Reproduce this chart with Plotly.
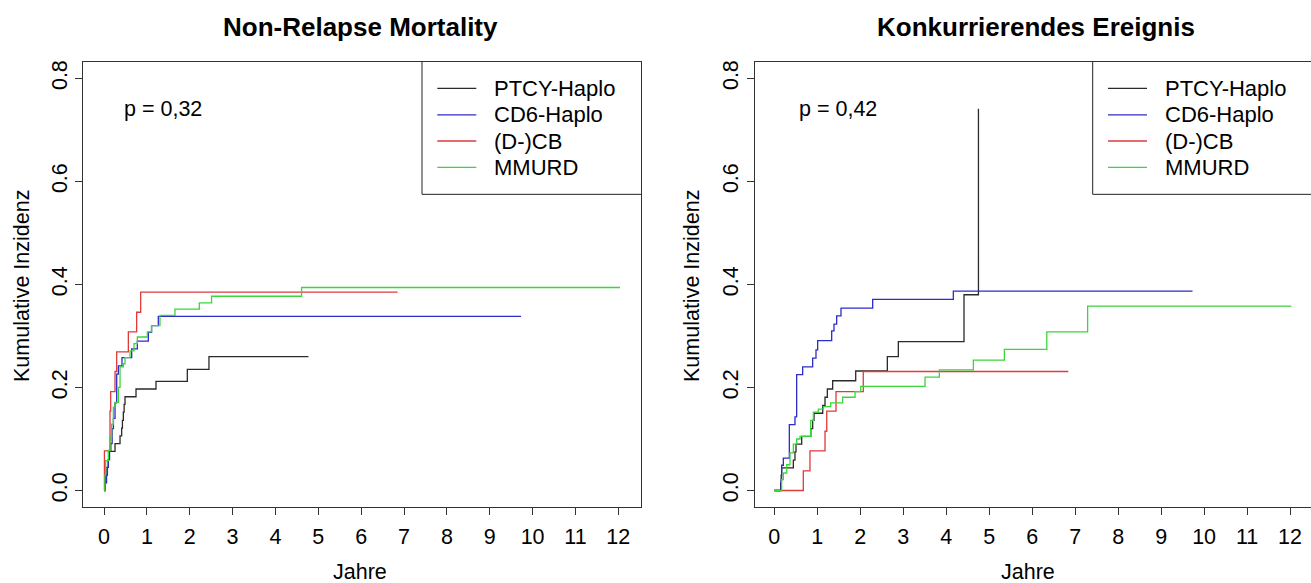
import plotly.graph_objects as go

W, H = 1311, 583

# ---------------- data (years, cumulative incidence) ----------------
series_names = ["PTCY-Haplo", "CD6-Haplo", "(D-)CB", "MMURD"]
series_colors = ["#2a2a2a", "#2c2cc8", "#e03a3a", "#3ad63a"]

# Non-Relapse Mortality
nrm_ptcy_t = [0, 0.02, 0.04, 0.07, 0.10, 0.12, 0.257, 0.374, 0.412, 0.43, 0.451, 0.47, 0.49, 0.747, 1.213, 1.944, 2.449, 4.77]
nrm_ptcy_v = [0, 0.015, 0.03, 0.045, 0.06, 0.076, 0.091, 0.106, 0.121, 0.136, 0.152, 0.167, 0.182, 0.197, 0.212, 0.235, 0.26, 0.26]
nrm_cd6_t = [0, 0.03, 0.06, 0.08, 0.10, 0.13, 0.16, 0.19, 0.22, 0.257, 0.296, 0.335, 0.42, 0.646, 0.778, 1.034, 1.11, 1.267, 9.73]
nrm_cd6_v = [0, 0.015, 0.03, 0.045, 0.06, 0.076, 0.091, 0.12, 0.14, 0.17, 0.226, 0.242, 0.258, 0.275, 0.29, 0.307, 0.32, 0.338, 0.338]
nrm_cb_t = [0, 0.01, 0.14, 0.156, 0.257, 0.296, 0.568, 0.762, 0.855, 6.85]
nrm_cb_v = [0, 0.077, 0.154, 0.192, 0.231, 0.269, 0.308, 0.346, 0.385, 0.385]
nrm_mmurd_t = [0, 0.02, 0.039, 0.101, 0.14, 0.179, 0.218, 0.257, 0.335, 0.374, 0.451, 0.49, 0.607, 0.70, 0.778, 1.011, 1.11, 1.306, 1.656, 2.224, 2.51, 4.61, 12.04]
nrm_mmurd_v = [0, 0.03, 0.058, 0.078, 0.104, 0.129, 0.162, 0.171, 0.20, 0.24, 0.246, 0.258, 0.271, 0.285, 0.298, 0.308, 0.32, 0.34, 0.352, 0.364, 0.377, 0.394, 0.394]

# Konkurrierendes Ereignis
ke_ptcy_t = [0, 0.148, 0.16, 0.171, 0.443, 0.481, 0.505, 0.637, 0.85, 0.893, 0.924, 1.126, 1.18, 1.234, 1.358, 1.894, 2.63, 2.886, 4.414, 4.75]
ke_ptcy_v = [0, 0.015, 0.03, 0.044, 0.059, 0.075, 0.09, 0.105, 0.12, 0.136, 0.15, 0.165, 0.181, 0.197, 0.213, 0.232, 0.26, 0.289, 0.38, 0.741]
ke_cd6_t = [0, 0.16, 0.171, 0.21, 0.35, 0.481, 0.52, 0.66, 0.893, 0.97, 1.009, 1.335, 1.389, 1.451, 1.552, 2.289, 4.166, 9.73]
ke_cd6_v = [0, 0.02, 0.049, 0.063, 0.128, 0.143, 0.225, 0.24, 0.257, 0.273, 0.291, 0.31, 0.323, 0.339, 0.354, 0.371, 0.387, 0.387]
ke_cb_t = [0, 0.675, 0.83, 1.18, 1.22, 1.436, 2.07, 6.84]
ke_cb_v = [0, 0.038, 0.077, 0.115, 0.154, 0.192, 0.231, 0.231]
ke_mmurd_t = [0, 0.171, 0.21, 0.29, 0.365, 0.443, 0.52, 0.598, 0.846, 0.908, 1.025, 1.141, 1.312, 1.591, 1.878, 2.01, 3.507, 3.84, 4.631, 5.353, 6.34, 7.29, 12.03]
ke_mmurd_v = [0, 0.021, 0.034, 0.05, 0.073, 0.09, 0.10, 0.105, 0.136, 0.152, 0.158, 0.163, 0.17, 0.181, 0.192, 0.202, 0.22, 0.234, 0.253, 0.274, 0.308, 0.358, 0.358]

panel_titles = ["Non-Relapse Mortality", "Konkurrierendes Ereignis"]
p_texts = ["p = 0,32", "p = 0,42"]
x_ticks = list(range(0, 13))
y_ticks = [0.0, 0.2, 0.4, 0.6, 0.8]
x_label = "Jahre"
y_label = "Kumulative Inzidenz"

panels = [
    [(nrm_ptcy_t, nrm_ptcy_v), (nrm_cd6_t, nrm_cd6_v), (nrm_cb_t, nrm_cb_v), (nrm_mmurd_t, nrm_mmurd_v)],
    [(ke_ptcy_t, ke_ptcy_v), (ke_cd6_t, ke_cd6_v), (ke_cb_t, ke_cb_v), (ke_mmurd_t, ke_mmurd_v)],
]

# ---------------- layout geometry (pixels) ----------------
FONT = "Liberation Sans, Arial, sans-serif"
FS = 21.5
box_left = [83.3, 755.0]
box_right = [641.0, 1311.0]
box_top, box_bottom = 60.0, 506.7
zero_px = [104.0, 774.3]
px_per_year = [42.86, 42.98]
y0_px = 490.2
px_per_unit = 517.0

fig = go.Figure()

for i, series in enumerate(panels):
    xa = "x" if i == 0 else "x2"
    ya = "y" if i == 0 else "y2"
    for (t, v), name, col in zip(series, series_names, series_colors):
        fig.add_trace(go.Scatter(x=t, y=v, mode="lines", line=dict(color=col, width=1.3, shape="hv"),
                                 name=name, showlegend=False, xaxis=xa, yaxis=ya))

axis_common = dict(showgrid=False, zeroline=False, showline=True, linecolor="#333333", linewidth=1,
                   ticks="outside", ticklen=7, tickcolor="#333333", tickwidth=1,
                   tickfont=dict(family=FONT, size=FS, color="#000000"))

ydom = [(H - box_bottom) / H, (H - box_top) / H]
yrange = [(y0_px - box_bottom) / px_per_unit, (y0_px - box_top) / px_per_unit]

for i in range(2):
    xr = [(box_left[i] - zero_px[i]) / px_per_year[i], (box_right[i] - zero_px[i]) / px_per_year[i]]
    xd = [box_left[i] / W, box_right[i] / W]
    xkey = "xaxis" if i == 0 else "xaxis2"
    ykey = "yaxis" if i == 0 else "yaxis2"
    fig.layout[xkey] = dict(axis_common, domain=xd, range=xr, tickvals=x_ticks,
                            ticktext=[str(k) for k in x_ticks], mirror=True,
                            anchor="y" if i == 0 else "y2", ticklabelstandoff=3)
    fig.layout[ykey] = dict(axis_common, domain=ydom, range=yrange, tickvals=y_ticks,
                            ticktext=["%.1f" % v for v in y_ticks], tickangle=-90,
                            mirror=(i == 0), anchor="x" if i == 0 else "x2", ticklabelstandoff=0)

annotations = []
shapes = []
title_cx = [360, 1036]
xlab_cx = [360, 1028]
ylab_cx = [22, 692]
p_x = [122, 797]
for i in range(2):
    xa = "x" if i == 0 else "x2"
    ya = "y" if i == 0 else "y2"
    annotations.append(dict(text="<b>%s</b>" % panel_titles[i], x=title_cx[i] / W, y=1 - 25 / H,
                            xref="paper", yref="paper", showarrow=False, xanchor="center", yanchor="middle",
                            font=dict(family=FONT, size=26, color="#000000")))
    annotations.append(dict(text=x_label, x=xlab_cx[i] / W, y=1 - 572 / H, xref="paper", yref="paper",
                            showarrow=False, xanchor="center", yanchor="middle",
                            font=dict(family=FONT, size=FS, color="#000000")))
    annotations.append(dict(text=y_label, x=ylab_cx[i] / W, y=1 - 285 / H, xref="paper", yref="paper",
                            showarrow=False, xanchor="center", yanchor="middle", textangle=-90,
                            font=dict(family=FONT, size=FS, color="#000000")))
    # p-value text (data coords)
    annotations.append(dict(text=p_texts[i], x=(p_x[i] - zero_px[i]) / px_per_year[i],
                            y=(y0_px - 107) / px_per_unit, xref=xa, yref=ya, showarrow=False,
                            xanchor="left", yanchor="middle", font=dict(family=FONT, size=FS, color="#000000")))
    # legend box
    lx0 = box_left[i] + (422 - 83.3) if i == 0 else 1092.7
    leg_x0 = (lx0 - zero_px[i]) / px_per_year[i]
    leg_y0 = (y0_px - 193) / px_per_unit
    shapes.append(dict(type="rect", xref=xa, yref=ya, x0=leg_x0, x1=14, y0=leg_y0, y1=1.0,
                       line=dict(color="#222222", width=1), fillcolor="rgba(0,0,0,0)", layer="above"))
    row_px = [86.7, 113.3, 139.5, 166]
    for k, (name, col) in enumerate(zip(series_names, series_colors)):
        yy = (y0_px - row_px[k]) / px_per_unit
        sx0 = (lx0 + 15.3 - zero_px[i]) / px_per_year[i]
        sx1 = (lx0 + 54.3 - zero_px[i]) / px_per_year[i]
        shapes.append(dict(type="line", xref=xa, yref=ya, x0=sx0, x1=sx1, y0=yy, y1=yy,
                           line=dict(color=col, width=1.3)))
        annotations.append(dict(text=name, x=(lx0 + 70.3 - zero_px[i]) / px_per_year[i], y=yy,
                                xref=xa, yref=ya, showarrow=False, xanchor="left", yanchor="middle",
                                font=dict(family=FONT, size=22, color="#000000")))

fig.update_layout(width=W, height=H, autosize=False, margin=dict(l=0, r=0, t=0, b=0),
                  paper_bgcolor="white", plot_bgcolor="white", showlegend=False,
                  annotations=annotations, shapes=shapes)

fig.write_html("out.html")
